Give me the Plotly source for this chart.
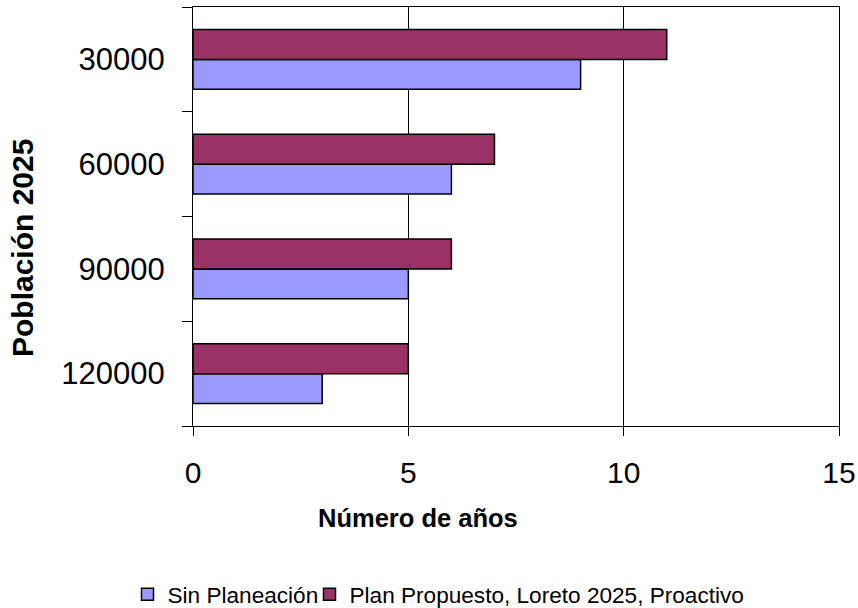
import plotly.graph_objects as go

categories = ["30000", "60000", "90000", "120000"]
sin_planeacion = [9, 6, 5, 3]
plan_propuesto = [11, 7, 6, 5]
x_ticks = [0, 5, 10, 15]

font_family = "Liberation Sans, Arial, sans-serif"

W, H = 858, 608
ML, MR, MT, MB = 193, 19, 7, 182
PW, PH = W - ML - MR, H - MT - MB

fig = go.Figure()
fig.add_trace(go.Bar(
    y=categories, x=sin_planeacion, orientation="h",
    name="Sin Planeación", legend="legend",
    marker=dict(color="#9999FF", line=dict(color="#000000", width=1.5)),
))
fig.add_trace(go.Bar(
    y=categories, x=plan_propuesto, orientation="h",
    name="Plan Propuesto, Loreto 2025, Proactivo", legend="legend2",
    marker=dict(color="#993366", line=dict(color="#000000", width=1.5)),
))

leg_common = dict(
    orientation="h", xref="container", yref="container",
    xanchor="left", y=0.022, yanchor="middle",
    font=dict(size=22.6), bgcolor="rgba(0,0,0,0)",
)

fig.update_layout(
    width=W, height=H,
    margin=dict(l=ML, r=MR, t=MT, b=MB),
    paper_bgcolor="white", plot_bgcolor="white",
    barmode="group", bargap=0.43, bargroupgap=0,
    font=dict(family=font_family, color="#000000"),
    showlegend=True,
    legend=dict(x=127.5 / W, **leg_common),
    legend2=dict(x=309.5 / W, **leg_common),
    xaxis=dict(
        range=[0, 15], tickvals=x_ticks, ticktext=[str(v) for v in x_ticks],
        showgrid=True, gridcolor="#000000", gridwidth=1,
        showline=True, linecolor="#000000", linewidth=1, mirror=True,
        ticks="outside", ticklen=9, tickcolor="#000000",
        tickfont=dict(size=30), ticklabelstandoff=11,
        zeroline=False, automargin=False,
    ),
    yaxis=dict(
        type="category",
        categoryorder="array", categoryarray=categories[::-1],
        showgrid=False,
        showline=True, linecolor="#000000", linewidth=1, mirror=True,
        ticks="outside", ticklen=10, tickcolor="#000000", tickson="boundaries",
        tickfont=dict(size=31), ticklabelstandoff=21,
        automargin=False,
    ),
    annotations=[
        dict(text="<b>Número de años</b>", xref="paper", yref="paper",
             x=(418 - ML) / PW, y=(MT + PH - 518) / PH,
             xanchor="center", yanchor="middle", showarrow=False,
             font=dict(size=25.5)),
        dict(text="<b>Población 2025</b>", xref="paper", yref="paper",
             x=(22 - ML) / PW, y=(MT + PH - 248) / PH,
             xanchor="center", yanchor="middle", showarrow=False,
             textangle=-90, font=dict(size=30)),
    ],
)

fig.write_html("out.html", config={"displayModeBar": False},
               post_script="document.body.style.margin='0';")
